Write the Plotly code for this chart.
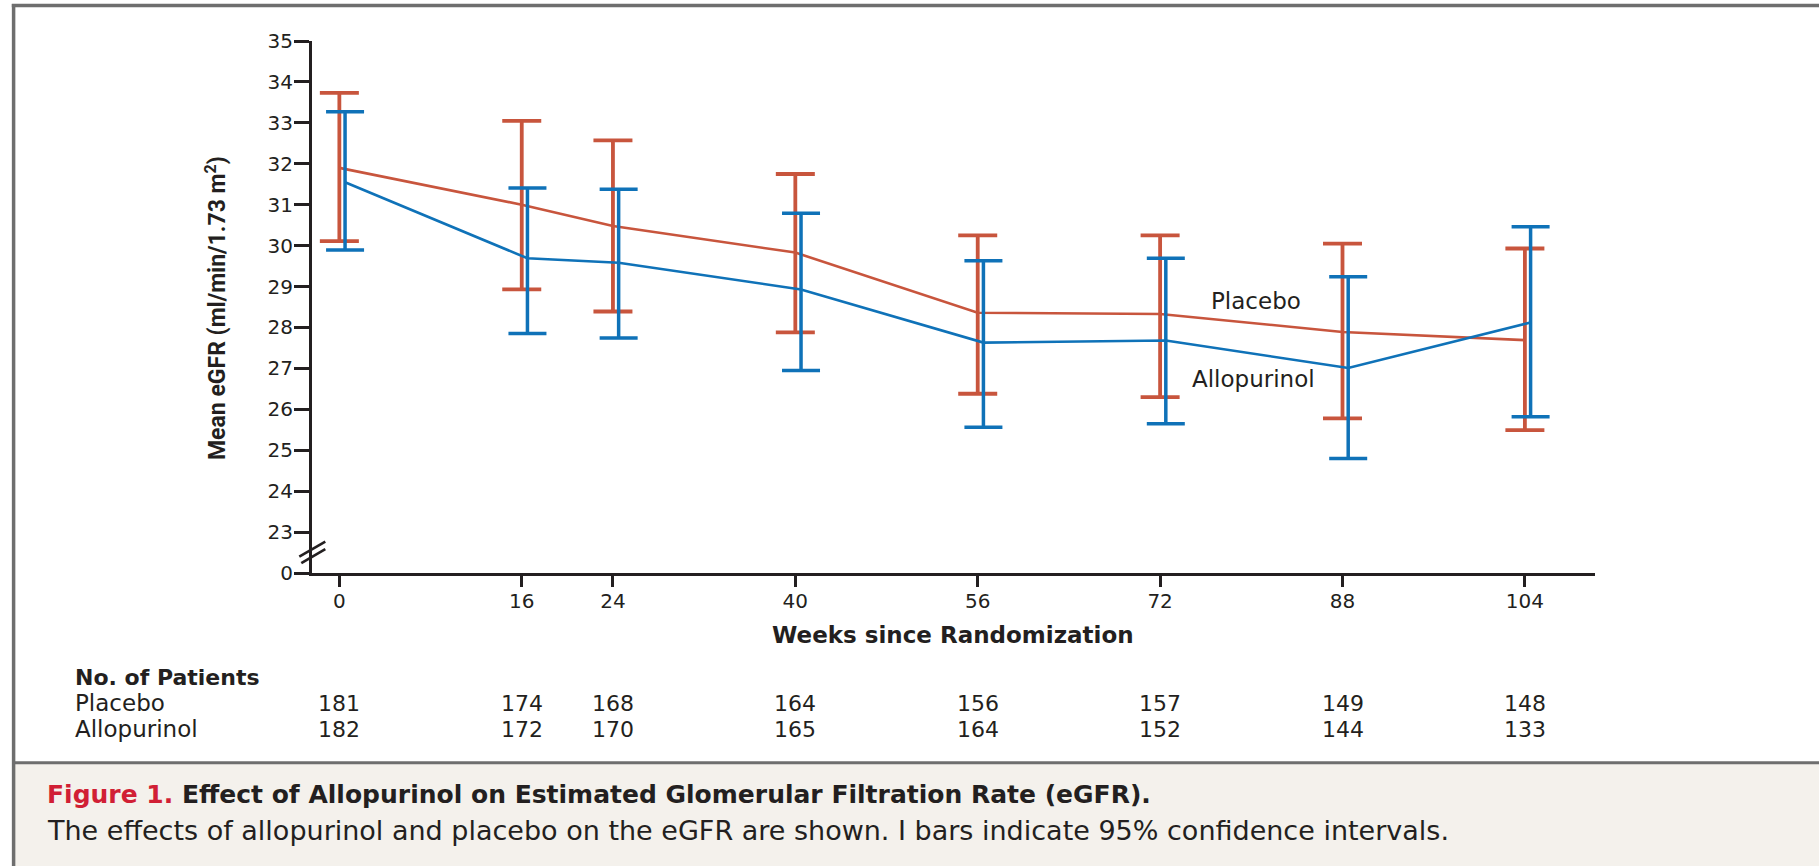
import plotly.graph_objects as go

# ---- data -------------------------------------------------------------
weeks = [0, 16, 24, 40, 56, 72, 88, 104]

placebo_mean = [31.90, 31.00, 30.48, 29.83, 28.36, 28.33, 27.89, 27.69]
placebo_upper = [33.73, 33.05, 32.57, 31.75, 30.25, 30.25, 30.05, 29.93]
placebo_lower = [30.11, 28.93, 28.39, 27.88, 26.38, 26.30, 25.78, 25.49]

allo_mean = [31.55, 29.69, 29.58, 28.93, 27.63, 27.68, 27.01, 28.12]
allo_upper = [33.27, 31.41, 31.38, 30.79, 29.63, 29.69, 29.24, 30.46]
allo_lower = [29.89, 27.85, 27.74, 26.95, 25.56, 25.65, 24.80, 25.82]

placebo_n = [181, 174, 168, 164, 156, 157, 149, 148]
allo_n = [182, 172, 170, 165, 164, 152, 144, 133]

y_tickvals = [22, 23, 24, 25, 26, 27, 28, 29, 30, 31, 32, 33, 34, 35]
y_ticktext = ["0", "23", "24", "25", "26", "27", "28", "29", "30", "31", "32", "33", "34", "35"]

# ---- styling ----------------------------------------------------------
RED = "#c8553d"
BLUE = "#0f72b8"
INK = "#231f20"
FIG_RED = "#d11f35"
BORDER = "#6e6e6e"
CAPTION_BG = "#f4f1ec"
CHART_FONT = "DejaVu Sans"
CAPTION_FONT = "DejaVu Sans"
ALLO_SHIFT = 0.5  # nudge allopurinol bars right so the two series don't overlap

W, H = 1819, 866
L, R, T, B = 311.7, 1594.7, 41.0, 573.5


def px_x(px):
    return (px - L) / (R - L)


def px_y(py):
    return (B - py) / (B - T)


def note(text, x, y, size, xref="paper", yref="paper", xanchor="center", bold=False, family=CHART_FONT,
         **kw):
    return dict(x=x, y=y, xref=xref, yref=yref, xanchor=xanchor, yanchor="middle",
                text=f"<b>{text}</b>" if bold else text, showarrow=False,
                font=dict(family=family, size=size, color=INK), **kw)


fig = go.Figure()

fig.add_trace(go.Scatter(
    x=weeks, y=placebo_mean, mode="lines", name="Placebo",
    line=dict(color=RED, width=2.6),
    error_y=dict(type="data", symmetric=False,
                 array=[u - m for u, m in zip(placebo_upper, placebo_mean)],
                 arrayminus=[m - l for m, l in zip(placebo_mean, placebo_lower)],
                 color=RED, thickness=3.8, width=19.5),
    showlegend=False, hoverinfo="skip",
))

fig.add_trace(go.Scatter(
    x=[w + ALLO_SHIFT for w in weeks], y=allo_mean, mode="lines", name="Allopurinol",
    line=dict(color=BLUE, width=2.6),
    error_y=dict(type="data", symmetric=False,
                 array=[u - m for u, m in zip(allo_upper, allo_mean)],
                 arrayminus=[m - l for m, l in zip(allo_mean, allo_lower)],
                 color=BLUE, thickness=3.5, width=19),
    showlegend=False, hoverinfo="skip",
))

annotations = []

# series labels
annotations.append(note("Placebo", 80.4, 28.64, 23, xref="x", yref="y"))
annotations.append(note("Allopurinol", 80.2, 26.74, 23, xref="x", yref="y"))

# axis titles
annotations.append(note("Weeks since Randomization", px_x(953), px_y(636), 23, bold=True))
annotations.append(note("Mean eGFR (ml/min/1.73 m<sup>2</sup>)", px_x(216), px_y(308), 23, bold=True,
                        family="Roboto", textangle=-90))

# number-at-risk table
annotations.append(note("No. of Patients", px_x(73), px_y(678), 22, xanchor="left", bold=True))
annotations.append(note("Placebo", px_x(73), px_y(704), 23, xanchor="left"))
annotations.append(note("Allopurinol", px_x(73), px_y(730), 23, xanchor="left"))
for w, n in zip(weeks, placebo_n):
    annotations.append(note(str(n), w, px_y(704), 22, xref="x"))
for w, n in zip(weeks, allo_n):
    annotations.append(note(str(n), w, px_y(730), 22, xref="x"))

# caption
annotations.append(dict(x=px_x(45), y=px_y(795), xref="paper", yref="paper", xanchor="left", yanchor="middle",
                        text=f"<b><span style='color:{FIG_RED}'>Figure 1.</span> Effect of Allopurinol on "
                             "Estimated Glomerular Filtration Rate (eGFR).</b>",
                        showarrow=False, font=dict(family=CAPTION_FONT, size=25, color=INK)))
annotations.append(dict(x=px_x(45), y=px_y(831), xref="paper", yref="paper", xanchor="left", yanchor="middle",
                        text="The effects of allopurinol and placebo on the eGFR are shown. "
                             "I bars indicate 95% confidence intervals.",
                        showarrow=False, font=dict(family=CAPTION_FONT, size=27, color=INK)))

shapes = [
    # caption panel
    dict(type="rect", xref="paper", yref="paper", x0=px_x(13), x1=px_x(W + 5), y0=px_y(763), y1=px_y(H + 5),
         fillcolor=CAPTION_BG, line=dict(width=0), layer="below"),
    dict(type="line", xref="paper", yref="paper", x0=px_x(13), x1=px_x(W + 5), y0=px_y(763.5), y1=px_y(763.5),
         line=dict(color=BORDER, width=3)),
    # frame (top and left edges)
    dict(type="line", xref="paper", yref="paper", x0=px_x(11.5), x1=px_x(W + 5), y0=px_y(5.5), y1=px_y(5.5),
         line=dict(color=BORDER, width=3.5)),
    dict(type="line", xref="paper", yref="paper", x0=px_x(13.3), x1=px_x(13.3), y0=px_y(4), y1=px_y(H + 5),
         line=dict(color=BORDER, width=3.5)),
    # axis break marks on the y axis
    dict(type="line", xref="paper", yref="paper", x0=px_x(299), x1=px_x(325), y0=px_y(557), y1=px_y(542),
         line=dict(color=INK, width=2.6)),
    dict(type="line", xref="paper", yref="paper", x0=px_x(301), x1=px_x(325), y0=px_y(563.5), y1=px_y(549.5),
         line=dict(color=INK, width=2.6)),
]

fig.update_layout(
    width=W, height=H,
    margin=dict(l=L, r=W - R, t=T, b=H - B, autoexpand=False),
    paper_bgcolor="white", plot_bgcolor="white",
    showlegend=False,
    annotations=annotations,
    shapes=shapes,
    xaxis=dict(range=[-2.4, 110.15], tickvals=weeks, ticktext=[str(w) for w in weeks],
               showgrid=False, zeroline=False, showline=True, linecolor=INK, linewidth=3,
               ticks="outside", ticklen=11, tickwidth=3, tickcolor=INK, ticklabelstandoff=-3,
               tickfont=dict(family=CHART_FONT, size=20, color=INK)),
    yaxis=dict(range=[22, 35], tickvals=y_tickvals, ticktext=y_ticktext,
               showgrid=False, zeroline=False, showline=True, linecolor=INK, linewidth=3,
               ticks="outside", ticklen=15, tickwidth=3, tickcolor=INK, ticklabelstandoff=-3,
               tickfont=dict(family=CHART_FONT, size=20, color=INK)),
)

fig.write_html("out.html")
